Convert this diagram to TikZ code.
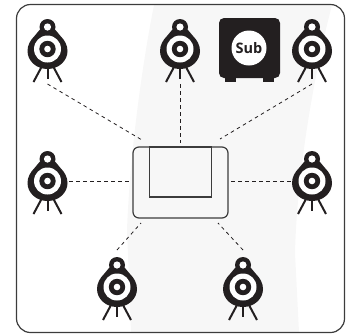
\documentclass[tikz,border=0pt]{standalone}
\usepackage{fontspec}
\setsansfont{Open Sans}
\usetikzlibrary{positioning, calc}
\definecolor{inkdark}{RGB}{35, 31, 32}
\definecolor{framegray}{RGB}{60, 60, 60}
\definecolor{roomtint}{RGB}{247, 247, 247}
\tikzset{
    roomframe/.style={rectangle, rounded corners=14pt, draw=framegray, line width=1.2pt, minimum width=328pt, minimum height=328pt, inner sep=0pt},
    ampbox/.style={rectangle, rounded corners=6pt, draw=framegray, line width=1.2pt, minimum width=95pt, minimum height=71pt, inner sep=0pt},
    screenbox/.style={rectangle, draw=framegray, line width=1.2pt, minimum width=62pt, minimum height=50pt, inner sep=0pt},
    subbox/.style={rectangle, rounded corners=5pt, fill=inkdark, minimum width=61pt, minimum height=60pt, inner sep=0pt},
    subcone/.style={circle, fill=white, minimum size=35pt, inner sep=0pt, text=inkdark, font=\sffamily\bfseries\fontsize{14.5}{14.5}\selectfont},
    link/.style={draw=inkdark, line width=0.8pt, dash pattern=on 3.5pt off 3.5pt},
    speaker/.pic={
        \fill[inkdark] (0,-22) circle (8);
        \fill[inkdark] (0,-22) .. controls (8,-22) and (9,-17) .. (13,-13) .. controls (17,-9) and (20,-4) .. (20,2) .. controls (20,12) and (11,20) .. (0,20) .. controls (-11,20) and (-20,12) .. (-20,2) .. controls (-20,-4) and (-17,-9) .. (-13,-13) .. controls (-9,-17) and (-8,-22) .. (0,-22) -- cycle;
        \fill[white] (0,-22) circle (3.6);
        \fill[white] (0,0) circle (13.5);
        \fill[inkdark] (0,0) circle (8.2);
        \fill[white] (0,0) circle (3.3);
        \draw[inkdark, line width=2pt] (-6,18) -- (-14,33);
        \draw[inkdark, line width=2pt] (0,18) -- (0,29.5);
        \draw[inkdark, line width=2pt] (6,18) -- (14,33);
        \coordinate (-head) at (0,-37);
        \coordinate (-foot) at (0,35);
        \coordinate (-west) at (-21.5,0);
        \coordinate (-east) at (21.5,0);
    }
}

\begin{document}
\begin{tikzpicture}[x=1pt, y=-1pt]
        \useasboundingbox (0,0) rectangle (347,333);

        % Backdrop
        \fill[roomtint] (154,5) .. controls (143,60) and (130,150) .. (127,230) -- (131,332) -- (299,332) -- (295,253) .. controls (297,170) and (315,70) .. (332,5) -- cycle;

        \node [roomframe] (room) at (180.5,168.5) {};

        % Speakers
        \pic (frontleft) at (47.5,49) {speaker};
        \pic (center) at (180,49) {speaker};
        \pic (frontright) at (312,49) {speaker};
        \pic (sideleft) at (47.5,181) {speaker};
        \pic (sideright) at (312,181) {speaker};
        \pic (rearleft) at (117,287) {speaker};
        \pic (rearright) at (243,287) {speaker};

        % Subwoofer
        \fill[inkdark] (225,74) rectangle (236,82);
        \fill[inkdark] (263,74) rectangle (274,82);
        \node [subbox] (sub) at (249.5,48) {};
        \node [subcone] (subcone) at (249,48) {Sub};

        % Receiver
        \node [ampbox] (amp) at (180.5,182.5) {};
        \node [screenbox, below=0pt of amp.north] (screen) {};

        \coordinate (ampfrontleft) at (142,140);
        \coordinate (ampcenter) at (180,143);
        \coordinate (ampfrontright) at (220,139);
        \coordinate (ampsideleft) at (130,181);
        \coordinate (ampsideright) at (231,181);
        \coordinate (amprearleft) at (141,223);
        \coordinate (amprearright) at (218,223);

        % Draws
        \draw [link] (frontleft-foot) -- (ampfrontleft);
        \draw [link] (center-foot) -- (ampcenter);
        \draw [link] (frontright-foot) -- (ampfrontright);
        \draw [link] (sideleft-east) -- (ampsideleft);
        \draw [link] (sideright-west) -- (ampsideright);
        \draw [link] (rearleft-head) -- (amprearleft);
        \draw [link] (rearright-head) -- (amprearright);

    \end{tikzpicture}
\end{document}
